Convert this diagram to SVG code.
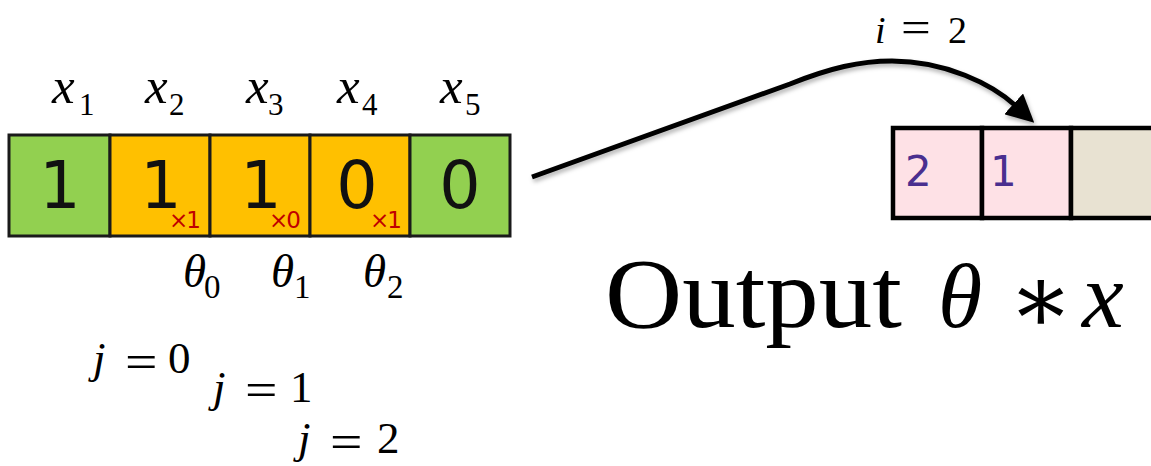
<svg xmlns="http://www.w3.org/2000/svg" width="1151" height="466" viewBox="0 0 1151 466">
<style>
.cell{stroke:#1a1a1a;stroke-width:3}
.g{fill:#92D050}
.o{fill:#FFC000}
.pc{stroke:#000;stroke-width:4.5}
.pink{fill:#FEE1E6}
.beige{fill:#E8E2D2}
.dig{font-family:"DejaVu Sans",sans-serif;font-size:65px;fill:#111;text-anchor:middle}
.red{font-family:"DejaVu Sans",sans-serif;font-size:23px;fill:#C00000;letter-spacing:-2px}
.pur{font-family:"DejaVu Sans",sans-serif;font-size:42px;fill:#4A2F8F}
.m{font-family:"Liberation Serif","Times New Roman",serif;fill:#000}
.it{font-style:italic}
</style>
<defs>
<marker id="ah" markerUnits="userSpaceOnUse" viewBox="0 0 26 26" markerWidth="28" markerHeight="28" refX="3" refY="13" orient="auto">
<path d="M0,0 L26,13 L0,26 z" fill="#000"/>
</marker>
<filter id="sh" x="-10%" y="-20%" width="120%" height="150%">
<feDropShadow dx="1.5" dy="3" stdDeviation="2" flood-color="#000" flood-opacity="0.3"/>
</filter>
</defs>

<g id="input-array">
<rect class="cell g" x="9" y="135" width="101" height="101"/>
<rect class="cell o" x="110" y="135" width="100" height="101"/>
<rect class="cell o" x="210" y="135" width="100" height="101"/>
<rect class="cell o" x="310" y="135" width="100" height="101"/>
<rect class="cell g" x="410" y="135" width="100" height="101"/>
<text class="dig" x="60" y="208">1</text>
<text class="dig" x="161" y="208">1</text>
<text class="dig" x="261" y="208">1</text>
<text class="dig" x="357" y="208">0</text>
<text class="dig" x="460" y="208">0</text>
<text class="red" x="169" y="228">×1</text>
<text class="red" x="269" y="228">×0</text>
<text class="red" x="370" y="228">×1</text>
</g>

<g id="x-labels" class="m">
<text x="52" y="103" font-size="51"><tspan class="it">x</tspan><tspan x="79" y="115" font-size="31">1</tspan></text>
<text x="145" y="103" font-size="51"><tspan class="it">x</tspan><tspan x="169" y="115" font-size="31">2</tspan></text>
<text x="246" y="103" font-size="51"><tspan class="it">x</tspan><tspan x="268" y="115" font-size="31">3</tspan></text>
<text x="337" y="103" font-size="51"><tspan class="it">x</tspan><tspan x="362" y="115" font-size="31">4</tspan></text>
<text x="440" y="103" font-size="51"><tspan class="it">x</tspan><tspan x="465" y="115" font-size="31">5</tspan></text>
</g>

<g id="theta-labels" class="m">
<text x="183" y="287" font-size="47"><tspan class="it">θ</tspan><tspan x="204" y="298" font-size="33">0</tspan></text>
<text x="271" y="287" font-size="47"><tspan class="it">θ</tspan><tspan x="294" y="298" font-size="33">1</tspan></text>
<text x="363" y="287" font-size="47"><tspan class="it">θ</tspan><tspan x="387" y="298" font-size="33">2</tspan></text>
</g>

<g id="j-labels" class="m" font-size="45">
<g id="j0">
<text x="93" y="373" class="it">j</text>
<text transform="translate(125,378) scale(1.2,1)" font-size="48">=</text>
<text x="168" y="373">0</text>
</g>
<g id="j1">
<text x="213" y="402" class="it">j</text>
<text transform="translate(245,406) scale(1.2,1)" font-size="48">=</text>
<text x="290" y="402">1</text>
</g>
<g id="j2">
<text x="298" y="453" class="it">j</text>
<text transform="translate(330,458) scale(1.2,1)" font-size="48">=</text>
<text x="377" y="453">2</text>
</g>
</g>

<g id="i-label" class="m" font-size="38">
<text x="875" y="43" class="it">i</text>
<text transform="translate(901,42) scale(1.2,1)" font-size="44">=</text>
<text x="948" y="43">2</text>
</g>

<g id="output-array">
<rect class="pc pink" x="893" y="128" width="89" height="90"/>
<rect class="pc pink" x="982" y="128" width="89" height="90"/>
<rect class="pc beige" x="1071" y="128" width="90" height="90"/>
<text class="pur" x="905" y="186">2</text>
<text class="pur" x="990" y="186">1</text>
</g>

<g id="output-label" class="m">
<text x="605" y="327" font-size="100" textLength="297" lengthAdjust="spacingAndGlyphs">Output</text>
<text x="938" y="327" font-size="90" class="it">θ</text>
<text x="1008" y="332" font-size="96" font-family="DejaVu Serif, serif">∗</text>
<text x="1082" y="327" font-size="94" class="it">x</text>
</g>

<g id="connectors" filter="url(#sh)">
<path d="M532,177 L790,84 C830,68 860,61 892,61 C945,61 992,84 1016,106" fill="none" stroke="#000" stroke-width="5" marker-end="url(#ah)"/>
</g>
</svg>
